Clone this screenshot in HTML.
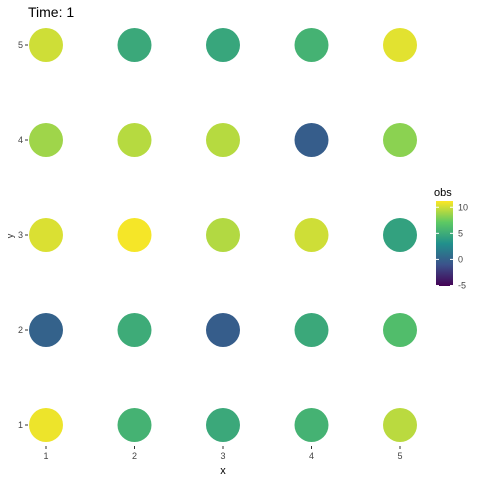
<!DOCTYPE html>
<html><head><meta charset="utf-8"><style>
body{margin:0;background:#fff;font-family:"Liberation Sans",sans-serif}
</style></head><body>
<svg id="c" width="480" height="480" xmlns="http://www.w3.org/2000/svg">
<defs><linearGradient id="g" x1="0" y1="1" x2="0" y2="0">
<stop offset="0" stop-color="#440154"/><stop offset="0.25" stop-color="#3b528b"/><stop offset="0.5" stop-color="#21908c"/><stop offset="0.75" stop-color="#5dc963"/><stop offset="1" stop-color="#fde725"/></linearGradient></defs>
<text x="28" y="17" font-size="14" fill="#000">Time: 1</text>
<text x="13" y="236" font-size="9" fill="#333" transform="rotate(-90 13 236)" text-anchor="middle">y</text>
<text x="223" y="474" font-size="11" fill="#000" text-anchor="middle">x</text>
<g id="axes"></g><g id="pts"></g>
<text x="434" y="196" font-size="11" fill="#000">obs</text>
<rect x="436" y="201" width="17" height="85" fill="url(#g)"/>
<g id="leg"></g>
</svg>
<script>
const xCats=[1,2,3,4,5];
const yCats=[1,2,3,4,5];
// obs[row y=1..5][x=1..5]
const obsY1=[10.8,5.5,4.8,5.5,9.5];
const obsY2=[0,5,-0.3,4.8,6.3];
const obsY3=[10.3,11,9.3,10,4.3];
const obsY4=[8.8,9.4,9.4,-0.3,8.3];
const obsY5=[10,4.8,4.6,5.5,10.5];
const legendTicks=[10,5,0,-5];
const obsRows=[obsY1,obsY2,obsY3,obsY4,obsY5];
const ns="http://www.w3.org/2000/svg";
const xs=v=>46+(v-1)*88.5;
const ys=v=>425-(v-1)*95;
const lmin=-5.1,lmax=11.2;
const ls=v=>286-(v-lmin)/(lmax-lmin)*85;
const stops=[[68,1,84],[59,82,139],[33,144,140],[93,201,99],[253,231,37]];
function vir(v){let t=Math.max(0,Math.min(1,(v-lmin)/(lmax-lmin)))*4;let i=Math.min(3,Math.floor(t));let f=t-i;
return 'rgb('+[0,1,2].map(k=>Math.round(stops[i][k]+(stops[i+1][k]-stops[i][k])*f)).join(',')+')';}
function mk(tag,a,p){const e=document.createElementNS(ns,tag);for(const k in a)e.setAttribute(k,a[k]);p.appendChild(e);return e;}
const ax=document.getElementById('axes');
xCats.forEach(v=>{
 const t=mk('line',{x1:xs(v),x2:xs(v),y1:446,y2:449,stroke:'#333'},ax);
 
 
 const l=mk('text',{x:xs(v),y:459,'font-size':9,fill:'#444','text-anchor':'middle'},ax);l.textContent=v;
 
 
});
yCats.forEach(v=>{
 const t=mk('line',{x1:25,x2:28,y1:ys(v),y2:ys(v),stroke:'#333'},ax);
 
 
 const l=mk('text',{x:23,y:ys(v)+3,'font-size':9,fill:'#444','text-anchor':'end'},ax);l.textContent=v;
 
 
});
const pg=document.getElementById('pts');
obsRows.forEach((row,ri)=>row.forEach((v,ci)=>{
 const c=mk('circle',{cx:xs(xCats[ci]),cy:ys(yCats[ri]),r:17,fill:vir(v)},pg);
 
 
}));
const lg=document.getElementById('leg');
legendTicks.forEach(v=>{
 mk('line',{x1:436,x2:439,y1:ls(v),y2:ls(v),stroke:'#fff'},lg);
 mk('line',{x1:450,x2:453,y1:ls(v),y2:ls(v),stroke:'#fff'},lg);
 const l=mk('text',{x:458,y:ls(v)+3,'font-size':9,fill:'#444'},lg);l.textContent=v;
 
 
});
</script>
</body></html>
